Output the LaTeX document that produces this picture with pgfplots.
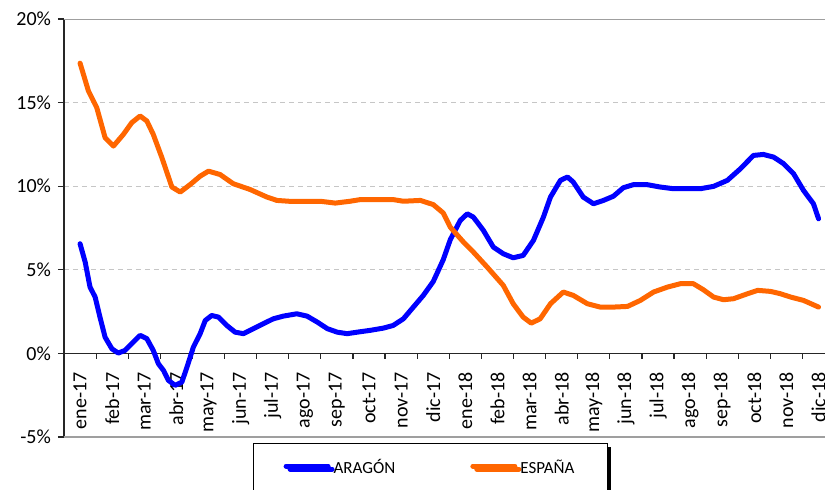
\documentclass[border=0pt]{standalone}
\usepackage{fontspec}
\setmainfont{Carlito}
\usepackage{pgfplots}
\pgfplotsset{compat=1.18}
\usetikzlibrary{shadows}
\definecolor{arag}{RGB}{0,0,255}
\definecolor{esp}{RGB}{255,102,0}
\begin{document}
\begin{tikzpicture}
\useasboundingbox (-32pt,-26pt) rectangle (380.5pt,218.5pt);
\begin{axis}[
  scale only axis, width=380.5pt, height=209pt,
  xmin=-0.5, xmax=23.2, ymin=-5, ymax=20,
  axis x line*=middle, axis y line*=left,
  hide obscured x ticks=false,
  axis line style={black!85, line width=0.6pt},
  tick align=outside, major tick length=3pt,
  tick style={black!85, line width=0.6pt},
  xtick={-0.5,0.5,...,22.5},
  xtick style={draw=none},
  xticklabels={ene-17,feb-17,mar-17,abr-17,may-17,jun-17,jul-17,ago-17,sep-17,oct-17,nov-17,dic-17,ene-18,feb-18,mar-18,abr-18,may-18,jun-18,jul-18,ago-18,sep-18,oct-18,nov-18,dic-18},
  xticklabel style={rotate=90, anchor=east, yshift=-8.02pt, xshift=-3pt, font=\fontsize{10}{12}\selectfont},
  ytick={-5,0,5,10,15,20},
  yticklabel={\pgfmathprintnumber{\tick}\%},
  yticklabel style={font=\fontsize{10}{12}\selectfont},
  /pgf/number format/assume math mode=true,
  ymajorgrids, grid style={gray!45, dash pattern=on 2.5pt off 2pt, line width=0.5pt},
  legend columns=2,
  legend style={at={(0.2484,-0.01435)}, anchor=north west, draw=black, line width=0.6pt,
    fill=white, inner xsep=15pt, inner ysep=6pt,
    drop shadow={shadow xshift=2pt, shadow yshift=-1.5pt, opacity=1, fill=black},
    font=\fontsize{8.5}{10}\selectfont,
    nodes={inner xsep=1.5pt},
    /tikz/every even column/.append style={column sep=36pt}},
  legend image code/.code={\draw[#1, line cap=round] (0pt,1pt) -- (21pt,1pt);},
]
\draw[gray!75, line width=0.6pt] (rel axis cs:0,1) -- (rel axis cs:1,1);
\draw[gray!75, line width=0.6pt] (rel axis cs:0,0) -- (rel axis cs:1,0);
\pgfplotsinvokeforeach{-0.5,0.5,...,22.5}{\draw[black!85, line width=0.6pt] (axis cs:#1,0) -- ++(0pt,-3pt);}
\addplot[arag, line width=2.5pt, line join=round, line cap=round] coordinates {
(0,6.56)(0.16,5.46)(0.31,3.97)(0.47,3.37)(0.62,2.17)(0.78,0.97)(0.99,0.28)(1.19,0.02)(1.40,0.18)(1.66,0.68)(1.87,1.08)(2.08,0.88)(2.28,0.18)(2.44,-0.62)(2.60,-1.02)(2.75,-1.61)(2.96,-1.91)(3.17,-1.72)(3.33,-0.82)(3.53,0.38)(3.74,1.18)(3.90,1.97)(4.10,2.27)(4.31,2.17)(4.57,1.67)(4.83,1.27)(5.09,1.18)(5.40,1.48)(5.71,1.78)(6.02,2.07)(6.33,2.23)(6.75,2.37)(7.07,2.23)(7.39,1.87)(7.70,1.48)(8.01,1.27)(8.32,1.18)(8.63,1.27)(9.04,1.38)(9.44,1.51)(9.75,1.67)(10.07,2.07)(10.38,2.77)(10.69,3.47)(11.00,4.30)(11.31,5.60)(11.53,6.80)(11.84,7.95)(12.06,8.35)(12.25,8.15)(12.56,7.36)(12.87,6.36)(13.18,5.96)(13.49,5.72)(13.80,5.86)(14.12,6.76)(14.43,8.15)(14.65,9.35)(14.96,10.35)(15.18,10.55)(15.36,10.25)(15.67,9.35)(15.99,8.95)(16.30,9.15)(16.61,9.40)(16.92,9.91)(17.23,10.09)(17.67,10.09)(18.07,9.95)(18.48,9.85)(19.32,9.85)(19.73,9.99)(20.16,10.35)(20.57,11.05)(20.97,11.84)(21.28,11.90)(21.60,11.74)(21.91,11.35)(22.22,10.75)(22.53,9.75)(22.84,8.95)(23,8.05)
};
\addlegendentry{ARAGÓN}
\addplot[esp, line width=2.5pt, line join=round, line cap=round] coordinates {
(0,17.36)(0.26,15.7)(0.52,14.7)(0.78,12.9)(1.04,12.4)(1.35,13.1)(1.61,13.8)(1.87,14.2)(2.08,13.9)(2.28,13.1)(2.55,11.7)(2.86,9.95)(3.12,9.65)(3.43,10.1)(3.74,10.6)(4.00,10.9)(4.36,10.7)(4.77,10.15)(5.30,9.8)(5.82,9.35)(6.13,9.15)(6.5,9.1)(7.0,9.1)(7.48,9.1)(7.95,8.99)(8.41,9.1)(8.73,9.2)(9.2,9.2)(9.75,9.2)(10.07,9.1)(10.6,9.15)(11.00,8.9)(11.31,8.4)(11.53,7.55)(11.94,6.66)(12.25,6.06)(12.68,5.16)(13.18,4.07)(13.49,2.97)(13.80,2.17)(14.05,1.81)(14.33,2.07)(14.65,2.97)(15.05,3.67)(15.36,3.47)(15.80,2.97)(16.20,2.77)(16.61,2.77)(17.05,2.81)(17.45,3.17)(17.86,3.67)(18.30,3.97)(18.70,4.17)(19.10,4.17)(19.41,3.81)(19.73,3.37)(20.04,3.21)(20.35,3.27)(20.79,3.57)(21.10,3.77)(21.50,3.71)(21.81,3.57)(22.13,3.37)(22.53,3.17)(23,2.77)
};
\addlegendentry{ESPAÑA}
\end{axis}
\end{tikzpicture}
\end{document}
